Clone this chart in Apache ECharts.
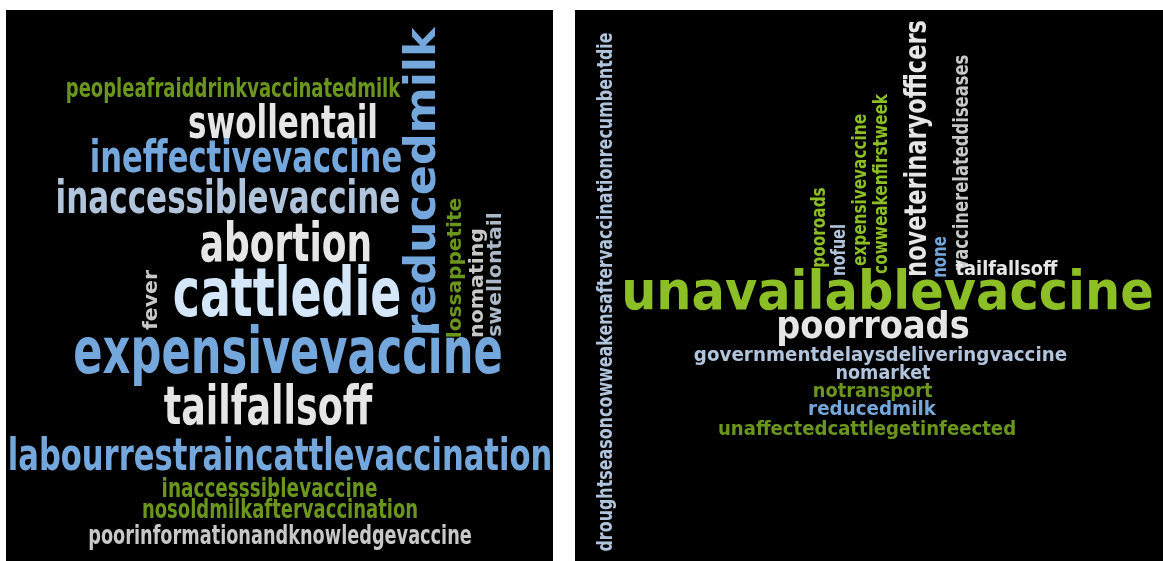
<!DOCTYPE html>
<html>
<head>
<meta charset="utf-8">
<script src="https://cdn.jsdelivr.net/npm/echarts@6/dist/echarts.min.js"></script>
<style>
  html, body { margin: 0; padding: 0; background: #fff; }
  #chart { width: 1163px; height: 561px; }
</style>
</head>
<body>
<div id="chart"></div>
<script>
// left cloud: words, weights (font size) and layout position inside the panel
const leftWords = [
  'peopleafraiddrinkvaccinatedmilk', 'swollentail', 'ineffectivevaccine', 'inaccessiblevaccine',
  'abortion', 'reducedmilk', 'fever', 'cattledie', 'lossappetite', 'nomating', 'swellontail',
  'expensivevaccine', 'tailfallsoff', 'labourrestraincattlevaccination', 'inaccesssiblevaccine',
  'nosoldmilkaftervaccination', 'poorinformationandknowledgevaccine'
]
const leftWeight = [20, 34.5, 34, 34.5, 40, 40, 18.5, 51, 18.2, 18.5, 18.4, 48, 40.5, 34, 20.5, 20, 19.7]
const leftX = [227, 277, 240, 222, 280, 417.7, 146, 281, 450, 472.2, 490.2, 282, 262, 274, 263.5, 274, 274]
const leftY = [80, 116.5, 150.5, 191, 237.5, 172, 290, 288.5, 258, 273, 264.5, 346, 400, 448.5, 479.5, 501.5, 527.5]
const leftVertical = [0, 0, 0, 0, 0, 1, 1, 0, 1, 1, 1, 0, 0, 0, 0, 0, 0]
const leftColor = [1, 2, 4, 5, 2, 4, 3, 6, 1, 3, 7, 4, 2, 4, 1, 1, 3]

// right cloud
const rightWords = [
  'unavailablevaccine', 'poorroads', 'governmentdelaysdeliveringvaccine', 'nomarket', 'notransport',
  'reducedmilk', 'unaffectedcattlegetinfeected', 'droughtseasoncowweakensaftervaccinationrecumbentdie',
  'pooroads', 'nofuel', 'expensivevaccine', 'cowweakenfirstweek', 'noveterinaryofficers', 'none',
  'vaccinerelateddiseases', 'tailfallsoff'
]
const rightWeight = [50, 34, 18.5, 17.8, 18, 18.5, 18.3, 17.7, 17, 16.2, 17, 17, 25, 16.5, 18.2, 18]
const rightX = [312.5, 298, 305.5, 308, 297.7, 297, 292, 31.7, 244.3, 265, 285.3, 306.3, 343.2, 366, 387, 431.5]
const rightY = [285, 318, 346, 364, 382, 400, 419.5, 282, 217.5, 240, 180, 174, 138.5, 247, 152.5, 260]
const rightVertical = [0, 0, 0, 0, 0, 0, 0, 1, 1, 1, 1, 1, 1, 1, 1, 0]
const rightColor = [0, 2, 5, 5, 1, 4, 1, 5, 0, 5, 0, 0, 2, 4, 3, 2]

const palette = ['#8cbf26', '#6b961e', '#e6e6e6', '#c8c8c8', '#74a8dc', '#b0c4dc', '#d3e7f9', '#aab8c8']

// glyphs of the original font are a bit taller than DejaVu Sans Condensed
const glyphStretch = 1.08

const chart = echarts.init(document.getElementById('chart'))

function cloudSeries (idx, words, weight, xs, ys, vertical, colors, sx, sy) {
  return {
    type: 'custom',
    xAxisIndex: idx,
    yAxisIndex: idx,
    silent: true,
    data: words.map((w, i) => [xs[i], ys[i], weight[i], vertical[i], colors[i]]),
    renderItem: function (params, api) {
      const p = api.coord([api.value(0), api.value(1)])
      return {
        type: 'group',
        x: p[0],
        y: p[1],
        scaleX: sx,
        scaleY: sy,
        children: [{
          type: 'text',
          rotation: api.value(3) ? Math.PI / 2 : 0,
          scaleY: glyphStretch,
          style: {
            text: words[params.dataIndex],
            fontSize: api.value(2),
            fontFamily: 'DejaVu Sans Condensed',
            fontWeight: 'bold',
            fill: palette[api.value(4)],
            align: 'center',
            verticalAlign: 'middle'
          }
        }]
      }
    }
  }
}

const hidden = { show: false }
const option = {
  backgroundColor: '#fff',
  animation: false,
  grid: [
    { left: 6, top: 10, width: 547, height: 551, show: true, backgroundColor: '#000', borderWidth: 0 },
    { left: 575, top: 10, width: 588, height: 551, show: true, backgroundColor: '#000', borderWidth: 0 }
  ],
  xAxis: [
    { type: 'value', gridIndex: 0, min: 0, max: 547, ...hidden },
    { type: 'value', gridIndex: 1, min: 0, max: 588, ...hidden }
  ],
  yAxis: [
    { type: 'value', gridIndex: 0, min: 0, max: 551, inverse: true, ...hidden },
    { type: 'value', gridIndex: 1, min: 0, max: 551, inverse: true, ...hidden }
  ],
  series: [
    cloudSeries(0, leftWords, leftWeight, leftX, leftY, leftVertical, leftColor, 1, 1.23),
    cloudSeries(1, rightWords, rightWeight, rightX, rightY, rightVertical, rightColor, 1.1, 1)
  ]
}

chart.setOption(option)
</script>
</body>
</html>
